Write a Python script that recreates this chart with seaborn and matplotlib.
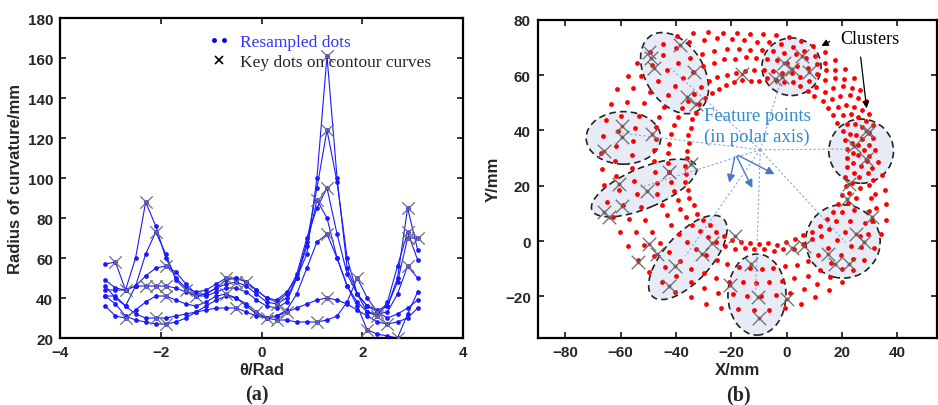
import numpy as np
import pandas as pd
import seaborn as sns
import matplotlib.pyplot as plt
from matplotlib.patches import Ellipse
from matplotlib.lines import Line2D
from matplotlib.legend_handler import HandlerLine2D

# ---- panel (a): radius of curvature along each contour ----
theta = [-3.1, -2.9, -2.7, -2.5, -2.3, -2.1, -1.9, -1.7, -1.5, -1.3, -1.1, -0.9, -0.7, -0.5, -0.3, -0.1,
         0.1, 0.3, 0.5, 0.7, 0.9, 1.1, 1.3, 1.5, 1.7, 1.9, 2.1, 2.3, 2.5, 2.7, 2.9, 3.1]
c1 = [57, 58, 44, 60, 88, 76, 60, 50, 45, 43, 44, 47, 50, 50, 48, 44, 40, 39, 43, 50, 62, 100, 161, 100, 55, 42, 36, 33, 36, 50, 85, 64]
c2 = [41, 41, 36, 46, 62, 73, 62, 49, 44, 41, 42, 45, 47, 48, 46, 42, 38, 37, 40, 50, 68, 95, 124, 98, 60, 42, 33, 31, 38, 56, 73, 59]
c3 = [49, 45, 44, 46, 51, 55, 56, 53, 47, 42, 42, 45, 49, 50, 48, 44, 40, 38, 42, 52, 70, 85, 95, 72, 52, 42, 36, 34, 36, 48, 70, 70]
c4 = [44, 44, 44, 46, 46, 46, 46, 45, 43, 41, 41, 43, 45, 45, 43, 39, 36, 35, 38, 50, 66, 89, 80, 60, 46, 38, 33, 32, 33, 42, 56, 50]
c5 = [36, 31, 30, 34, 38, 41, 41, 39, 37, 36, 38, 41, 42, 40, 36, 32, 30, 31, 34, 42, 55, 68, 72, 60, 46, 36, 24, 22, 21, 20, 32, 43]
c6 = [46, 40, 36, 32, 30, 30, 30, 31, 32, 33, 34, 35, 35, 35, 33, 31, 30, 31, 33, 35, 37, 39, 40, 39, 37, 34, 31, 28, 27, 28, 30, 35]
c7 = [41, 37, 31, 29, 28, 27, 27, 28, 30, 33, 36, 39, 41, 40, 37, 33, 30, 29, 29, 28, 28, 28, 29, 31, 38, 50, 40, 33, 30, 32, 35, 39]

key_theta = [-2.9, -2.7, -2.7, -2.3, -2.1, -1.9, -2.3, -2.1, -1.9, -1.9, -2.1, -1.9, -1.5, -1.3, -0.7, -0.5,
             -0.3, -0.7, -0.5, -0.1, 0.3, 0.3, 0.1, 0.5, 1.3, 1.3, 1.3, 1.1, 1.3, 1.3, 1.1, 1.9, 2.1, 2.3,
             2.3, 2.5, 2.7, 2.9, 2.9, 2.9, 3.1, 2.9]
key_r = [58, 44, 30, 88, 73, 56, 46, 46, 46, 41, 30, 27, 44, 41, 50, 48,
         48, 42, 35, 33, 37, 29, 30, 33, 161, 124, 95, 89, 72, 40, 28, 50, 24, 33,
         31, 27, 20, 85, 73, 70, 70, 56]

# ---- panel (b): contour dots, radius (mm) every 6 degrees around (-10, 30) ----
ring_center = (-10, 30)
ring_angles = np.arange(0, 360, 6)
ring_offset = [0, 3, 1.5, 4.5, 1, 4]
ring1 = [32, 32, 32, 32, 31, 31, 31, 31, 30, 30, 30, 30, 29, 29, 29, 28, 28, 29, 29, 29,
         29, 29, 29, 29, 28, 28, 27, 27, 26, 26, 26, 27, 27, 28, 28, 29, 29, 30, 30, 30,
         31, 31, 31, 31, 31, 31, 31, 32, 32, 32, 32, 33, 33, 33, 33, 33, 33, 33, 32, 32]
ring2 = [34, 34, 34, 34, 34, 34, 34, 34, 33, 33, 33, 33, 32, 32, 32, 32, 32, 32, 32, 33,
         33, 33, 33, 33, 33, 33, 33, 33, 33, 33, 33, 33, 33, 33, 33, 34, 34, 34, 34, 34,
         34, 34, 34, 33, 33, 33, 34, 34, 35, 35, 35, 36, 36, 36, 36, 36, 35, 35, 35, 34]
ring3 = [36, 36, 36, 37, 37, 37, 37, 37, 37, 37, 37, 36, 36, 36, 36, 36, 37, 37, 38, 38,
         39, 39, 40, 40, 40, 39, 39, 39, 38, 38, 38, 38, 38, 39, 39, 39, 40, 40, 40, 40,
         40, 40, 40, 40, 40, 40, 40, 40, 41, 41, 41, 41, 41, 41, 40, 39, 38, 38, 37, 37]
ring4 = [38, 38, 39, 39, 39, 40, 40, 40, 40, 40, 40, 40, 39, 39, 39, 39, 40, 41, 42, 43,
         44, 45, 46, 46, 46, 46, 46, 46, 46, 46, 46, 46, 46, 46, 47, 47, 47, 47, 47, 47,
         46, 46, 46, 45, 45, 45, 45, 45, 46, 46, 46, 46, 46, 46, 45, 44, 43, 41, 40, 39]
ring5 = [40, 40, 41, 41, 41, 42, 42, 42, 42, 42, 42, 42, 42, 42, 42, 42, 43, 44, 46, 47,
         49, 50, 51, 51, 52, 52, 52, 52, 52, 52, 52, 52, 52, 52, 52, 52, 52, 52, 52, 52,
         51, 51, 51, 50, 50, 50, 50, 50, 50, 50, 50, 50, 50, 49, 48, 47, 46, 44, 42, 41]
ring6 = [42, 42, 43, 43, 44, 44, 45, 45, 45, 45, 45, 45, 45, 45, 45, 45, 46, 47, 49, 51,
         53, 54, 55, 56, 56, 57, 57, 57, 57, 57, 57, 57, 57, 57, 57, 57, 57, 57, 57, 57,
         56, 56, 56, 55, 55, 55, 55, 55, 54, 54, 54, 53, 53, 53, 52, 51, 49, 47, 45, 43]

feat_x = [-49.8, -48.9, -48.0, -38.7, -33.4, -35.9, -32.9, 5.7, -1.0, 2.0, -1.6, -4.0, 8.0, -16.0,
          -66.1, -59.5, -59.7, -48.6, 29.8, 28.6, 24.4, 28.6, 22.6, 22.0,
          -60.7, -50.4, -42.6, -59.5, -66.1, -64.3, -34.7,
          -26.9, -30.5, -40.2, -42.6, -49.8, -46.8, -53.7, -18.5,
          -13.0, -10.3, -10.0, -20.5, 0.2, 2.0, 6.3,
          15.1, 17.7, 22.6, 25.3, 28.0, 31.0]
feat_y = [68.2, 66.0, 62.4, 70.8, 61.2, 51.9, 49.5, 67.0, 64.3, 62.2, 59.2, 58.6, 61.0, 60.4,
          32.7, 41.7, 37.5, 38.7, 39.3, 39.9, 34.5, 29.6, 20.6, 15.2,
          20.6, 18.2, 24.8, 12.8, 10.4, 8.9, 27.8,
          -0.5, -4.7, -8.9, -16.1, -1.1, -4.7, -7.7, 1.9,
          -8.3, -20.1, -27.6, -15.8, -21.0, -2.3, -1.7,
          -4.5, -8.3, -8.3, 2.5, -0.2, 8.6]

# clusters: centre x, centre y, width, height, angle
clu_x = [-40.5, 1.8, -59.0, 27.0, -51.5, -35.7, -10.7, 20.4]
clu_y = [60.7, 63.0, 37.3, 32.5, 19.2, -5.9, -19.3, -0.1]
clu_w = [32, 21.4, 27, 23.4, 41, 38, 21, 27]
clu_h = [21, 20.8, 19, 23.2, 14.5, 17, 29.3, 26.5]
clu_a = [-58, 0, 0, 0, 23, 48, 0, -15]

polar_origin = (-9.5, 33)
ray_x = [-42.0, -59.5, -52.8, -36.5, -11.2, 21.4, 23.8, -1.6]
ray_y = [62.5, 39.0, 19.4, -5.3, -18.5, -0.5, 33.3, 59.8]
arrow_start = (-18.5, 31.5)
arrow_x = [-20.9, -11.9, -3.4]
arrow_y = [20.1, 18.3, 23.7]

sns.set_style("ticks")
plt.rcParams['font.family'] = ['Liberation Sans', 'DejaVu Sans']
plt.rcParams.update({
    'xtick.direction': 'in', 'ytick.direction': 'in',
    'xtick.top': True, 'ytick.right': True,
    'xtick.major.size': 4, 'ytick.major.size': 4,
    'xtick.major.width': 1.3, 'ytick.major.width': 1.3,
    'axes.linewidth': 1.6, 'axes.edgecolor': 'black',
})
serif = ['Liberation Serif', 'DejaVu Serif']

fig = plt.figure(figsize=(9.38, 4.06), dpi=100)
ax1 = fig.add_axes([0.064, 0.165, 0.4296, 0.788])
ax2 = fig.add_axes([0.5733, 0.165, 0.4258, 0.784])

# ---- (a) ----
curves = {'c1': c1, 'c2': c2, 'c3': c3, 'c4': c4, 'c5': c5, 'c6': c6, 'c7': c7}
df = pd.concat([pd.DataFrame({'theta': theta, 'r': v, 'curve': k}) for k, v in curves.items()])
sns.lineplot(data=df, x='theta', y='r', units='curve', estimator=None, sort=False,
             color='#1a1aff', lw=0.8, marker='o', markersize=3.4, markeredgewidth=0,
             ax=ax1)
sns.scatterplot(x=key_theta, y=key_r, marker='x', color='#707070', s=80, linewidth=0.9,
                ax=ax1, zorder=3)
ax1.set_xlim(-4, 4)
ax1.set_ylim(20, 180)
ax1.set_xticks([-4, -2, 0, 2, 4])
ax1.set_yticks(range(20, 181, 20))
ax1.set_xlabel('θ/Rad', fontsize=12, fontweight='bold', labelpad=2)
ax1.set_ylabel('Radius of curvature/mm', fontsize=12, fontweight='bold', labelpad=3)

h1 = Line2D([0], [0], color='blue', marker='.', markersize=5, linestyle='none')
h2 = Line2D([0], [0], color='black', marker='x', markersize=6, mew=1.2, linestyle='none')
leg = ax1.legend([h1, h2], ['Resampled dots', 'Key dots on contour curves'],
                 handler_map={h1: HandlerLine2D(numpoints=2)},
                 loc='upper left', bbox_to_anchor=(0.33, 1.0), frameon=False,
                 handlelength=1.2, handletextpad=0.6, labelspacing=0.25,
                 prop={'family': serif, 'size': 12.5})
leg.get_texts()[0].set_color('#3333ff')

# ---- (b) ----
for (cx, cy, w, h, a) in zip(clu_x, clu_y, clu_w, clu_h, clu_a):
    ax2.add_patch(Ellipse((cx, cy), w, h, angle=a, facecolor='#e6ebf6', edgecolor='#222222',
                          lw=1.2, ls=(0, (4, 2.5)), zorder=1))

rings = [ring1, ring2, ring3, ring4, ring5, ring6]
pts = []
for i, rr in enumerate(rings):
    ang = np.deg2rad(ring_angles + ring_offset[i])
    pts.append(pd.DataFrame({'x': ring_center[0] + np.array(rr) * np.cos(ang),
                             'y': ring_center[1] + np.array(rr) * np.sin(ang)}))
pts = pd.concat(pts)
sns.scatterplot(data=pts, x='x', y='y', color='red', s=12, linewidth=0, ax=ax2, zorder=2)

for rx, ry in zip(ray_x, ray_y):
    ax2.plot([polar_origin[0], rx], [polar_origin[1], ry], ls=(0, (2, 2)), color='#86a9e0', lw=0.8, zorder=3)
for ex, ey in zip(arrow_x, arrow_y):
    ax2.annotate('', xy=(ex, ey), xytext=arrow_start,
                 arrowprops=dict(arrowstyle='-|>', color='#4a78c6', lw=1.0, mutation_scale=12), zorder=4)

sns.scatterplot(x=feat_x, y=feat_y, color='#8b0000', s=7, linewidth=0, ax=ax2, zorder=4)
sns.scatterplot(x=feat_x, y=feat_y, marker='x', color='#6a6a6a', s=95, linewidth=0.9, ax=ax2, zorder=5)

ax2.text(-10.7, 41.5, 'Feature points\n(in polar axis)', color='#2f8ad0', ha='center', va='center',
         family=serif, fontsize=13.5, linespacing=1.25, zorder=6)
ax2.text(19.5, 73.3, 'Clusters', color='black', ha='left', va='center', family=serif, fontsize=13)
ax2.annotate('', xy=(11.7, 70.0), xytext=(16.5, 72.6),
             arrowprops=dict(arrowstyle='-|>', color='black', lw=0.9, mutation_scale=10))
ax2.annotate('', xy=(29.1, 47.0), xytext=(26.7, 67.5),
             arrowprops=dict(arrowstyle='-|>', color='black', lw=0.9, mutation_scale=10))

ax2.set_xlim(-90, 54.5)
ax2.set_ylim(-35, 80)
ax2.set_xticks([-80, -60, -40, -20, 0, 20, 40])
ax2.set_yticks([-20, 0, 20, 40, 60, 80])
ax2.set_xlabel('X/mm', fontsize=12, fontweight='bold', labelpad=2)
ax2.set_ylabel('Y/mm', fontsize=12, fontweight='bold', labelpad=3)

for ax in (ax1, ax2):
    for lab in ax.get_xticklabels() + ax.get_yticklabels():
        lab.set_fontweight('bold')
        lab.set_fontsize(11)
    ax.tick_params(pad=5)

fig.text(0.2737, 0.027, '(a)', ha='center', va='center', family=serif, fontsize=14.5, fontweight='bold')
fig.text(0.787, 0.027, '(b)', ha='center', va='center', family=serif, fontsize=14.5, fontweight='bold')

fig.savefig('out.png', dpi=100)
